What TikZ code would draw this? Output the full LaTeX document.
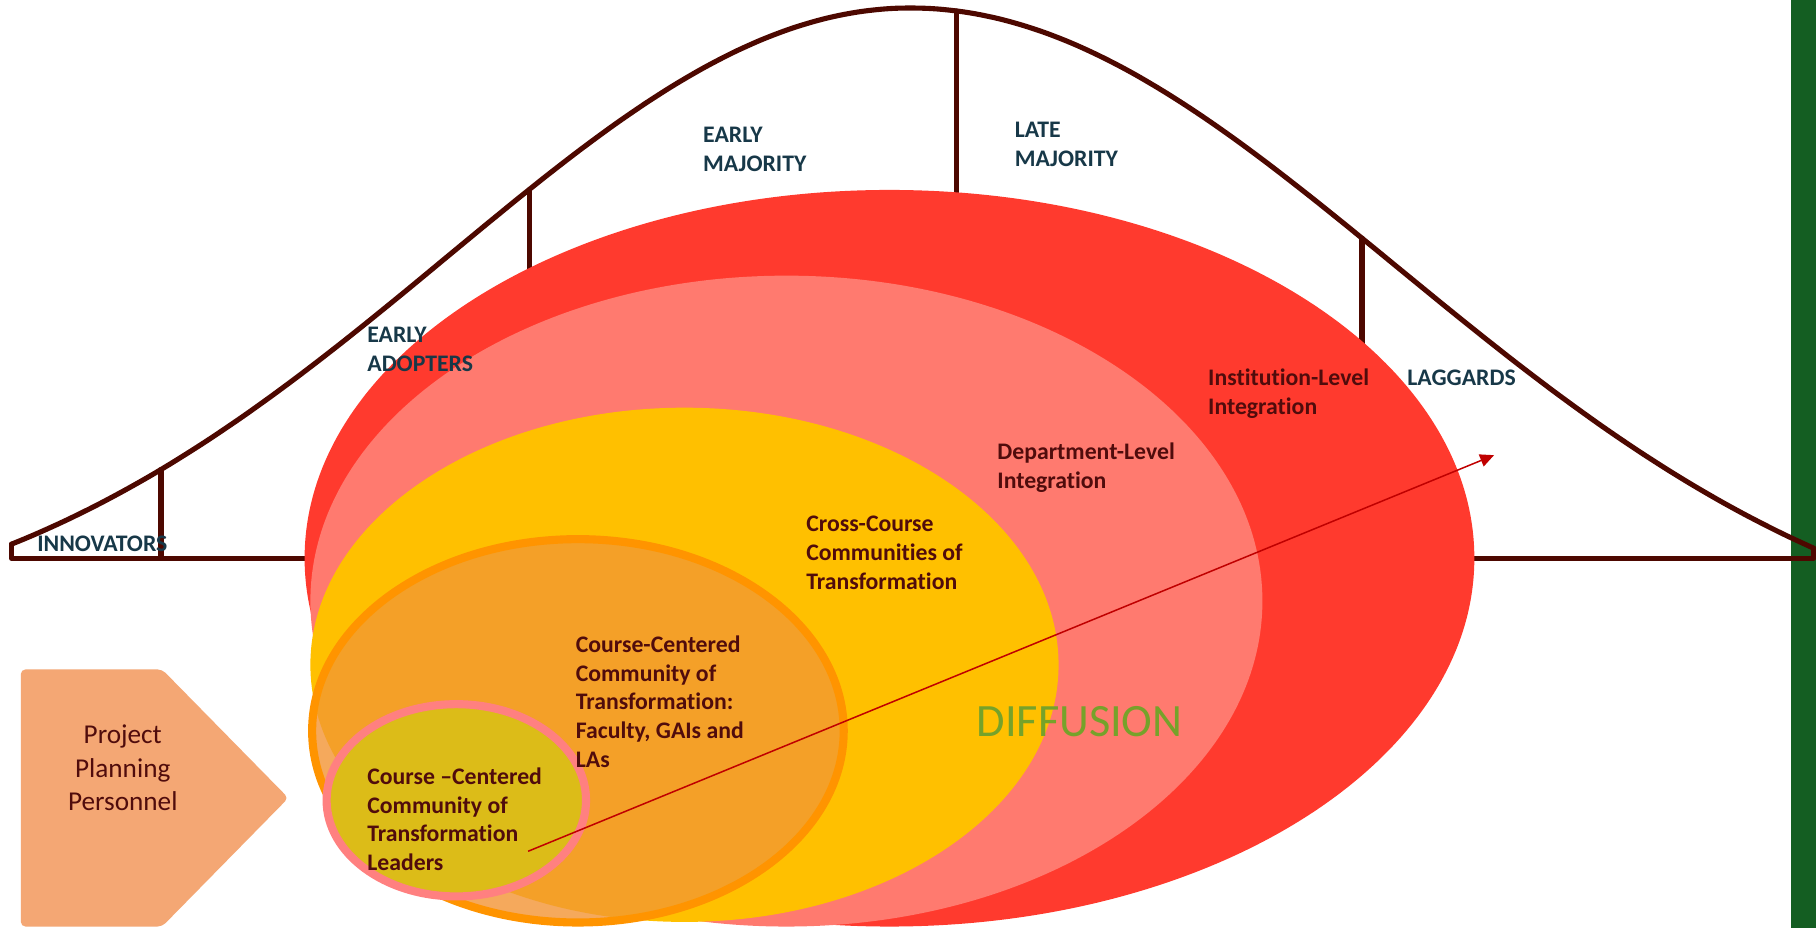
\documentclass[tikz,border=0pt]{standalone}
\usepackage{fontspec}
\setmainfont{Carlito}[Ligatures=NoCommon]
\usetikzlibrary{arrows.meta}
\definecolor{curvecol}{RGB}{77,8,0}
\definecolor{greenbar}{RGB}{20,94,34}
\definecolor{redE}{RGB}{255,58,46}
\definecolor{salmonE}{RGB}{255,122,111}
\definecolor{yellowE}{RGB}{255,192,0}
\definecolor{orangeF}{RGB}{244,160,40}
\definecolor{orangeL}{RGB}{245,169,92}
\definecolor{orangeLine}{RGB}{255,148,0}
\definecolor{smallF}{RGB}{220,188,24}
\definecolor{smallLine}{RGB}{255,128,128}
\definecolor{pentF}{RGB}{244,167,116}
\definecolor{belltext}{RGB}{23,56,72}
\definecolor{elltext}{RGB}{80,12,12}
\definecolor{difftext}{RGB}{118,162,42}
\definecolor{arrowcol}{RGB}{192,0,0}
\newcommand{\lbl}[1]{\begin{tabular}[t]{@{}l@{}}#1\end{tabular}}
\newcommand{\lblc}[1]{\begin{tabular}[t]{@{}c@{}}#1\end{tabular}}
\begin{document}
\begin{tikzpicture}[x=1pt,y=-1pt,
  declare function={
    bl(\x)=(\x<786) ? (482-475*(exp(-0.5*((\x-786)/400)^2)-0.13)/0.87)
                    : (482-475*(exp(-0.5*((\x-786)/420)^2)-0.163)/0.837);},
  curve/.style={draw=curvecol,line width=4.4pt,line join=round,line cap=round},
  belllabel/.style={inner sep=0pt,anchor=base west,text=belltext,font=\bfseries\fontsize{20.5}{25}\selectfont},
  elllabel/.style={inner sep=0pt,anchor=base west,text=elltext,font=\bfseries\fontsize{20.5}{25}\selectfont}]
\useasboundingbox (0,0) rectangle (1568,801);
\fill[white] (0,0) rectangle (1568,801);
% green bar
\fill[greenbar] (1546,0) rectangle (1568,801);
% bell curve
\draw[curve] (10,{bl(10)}) -- (10,482) -- (1566,482) -- (1566,{bl(1566)});
\draw[curve] plot[domain=10:1566,samples=160,smooth] (\x,{bl(\x)});
\draw[curve] (139,{bl(139)}) -- (139,482);
\draw[curve] (457,{bl(457)}) -- (457,482);
\draw[curve] (826,{bl(826)}) -- (826,482);
\draw[curve] (1176,{bl(1176)}) -- (1176,482);
% ellipses
\fill[redE] (768,482) ellipse [x radius=505, y radius=318];
\fill[salmonE] (679,519) ellipse [x radius=411, y radius=281];
\fill[yellowE] (591,574) ellipse [x radius=323, y radius=222];
\fill[orangeL] (499,631) ellipse [x radius=231, y radius=167];
\begin{scope}
  \clip (591,574) ellipse [x radius=323, y radius=222];
  \fill[orangeF] (499,631) ellipse [x radius=231, y radius=167];
\end{scope}
\draw[orangeLine,line width=7pt] (499,631) ellipse [x radius=229.5, y radius=165.5];
\filldraw[fill=smallF,draw=smallLine,line width=7pt] (394,691) ellipse [x radius=112, y radius=83];
% pentagon
\fill[pentF,rounded corners=4pt] (18,578) -- (140,578) -- (249,689) -- (140,800) -- (18,800) -- cycle;
\node[inner sep=0pt,anchor=base,text=elltext,font=\fontsize{23.5}{29}\selectfont] (ppp) at (106,642) {\lblc{Project\\Planning\\Personnel}};
% arrow
\coordinate (arrS) at (456,735);
\coordinate (arrE) at (1290,393);
\draw[arrowcol,line width=1.3pt,-{Triangle[length=12pt,width=11pt]}] (arrS) -- (arrE);
% bell labels
\node[belllabel] (inn) at (32,476) {\lbl{INNOVATORS}};
\node[belllabel] (ea) at (317,296) {\lbl{EARLY\\ADOPTERS}};
\node[belllabel] (em) at (607,123) {\lbl{EARLY\\MAJORITY}};
\node[belllabel] (lm) at (876,119) {\lbl{LATE\\MAJORITY}};
\node[belllabel] (lag) at (1215,333) {\lbl{LAGGARDS}};
% ellipse labels
\node[elllabel] (inst) at (1043,333) {\lbl{Institution-Level\\Integration}};
\node[elllabel] (dept) at (861,397) {\lbl{Department-Level\\Integration}};
\node[elllabel] (cross) at (696,459) {\lbl{Cross-Course\\Communities of\\Transformation}};
\node[elllabel] (cc) at (497,563) {\lbl{Course-Centered\\Community of\\Transformation:\\Faculty, GAIs and\\LAs}};
\node[elllabel] (ccl) at (317,677) {\lbl{Course –Centered\\Community of\\Transformation\\Leaders}};
\node[inner sep=0pt,anchor=base west,text=difftext,font=\fontsize{40}{48}\selectfont] (diff) at (843,636) {DIFFUSION};
\end{tikzpicture}
\end{document}
